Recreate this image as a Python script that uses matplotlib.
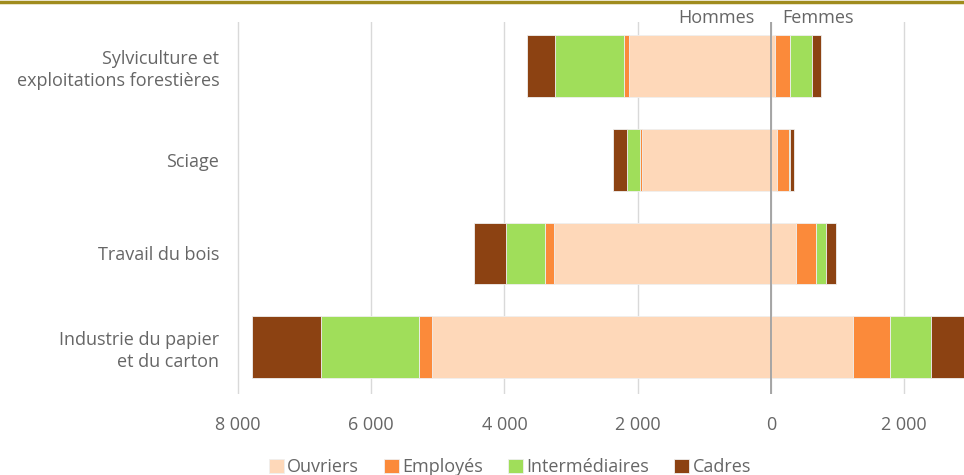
import matplotlib
matplotlib.use("Agg")
import matplotlib.pyplot as plt
import numpy as np
from matplotlib.ticker import FuncFormatter

plt.rcParams['font.family'] = ['Open Sans', 'DejaVu Sans']

categories = ["Sylviculture et\nexploitations forestières", "Sciage",
              "Travail du bois", "Industrie du papier\net du carton"]
series = ["Ouvriers", "Employés", "Intermédiaires", "Cadres"]
colors = ["#FED8B9", "#FB8A3A", "#A0DE5A", "#8C4212"]

hommes = {
    "Ouvriers":       [2135, 1930, 3250, 5080],
    "Employés":       [75, 40, 140, 200],
    "Intermédiaires": [1025, 185, 590, 1480],
    "Cadres":         [420, 210, 470, 1035],
}
femmes = {
    "Ouvriers":       [65, 90, 380, 1240],
    "Employés":       [220, 185, 295, 555],
    "Intermédiaires": [340, 20, 160, 605],
    "Cadres":         [130, 60, 145, 600],
}
xticks = [-8000, -6000, -4000, -2000, 0, 2000]

FS = 13
TXT = "#666666"

fig = plt.figure(figsize=(9.64, 4.75), dpi=100)
ax = fig.add_axes([236/964, 1 - 394/475, (964 - 236)/964, (394 - 22)/475])

y = np.arange(len(categories))
left_h = np.zeros(len(categories))
left_f = np.zeros(len(categories))
for s, c in zip(series, colors):
    h = np.array(hommes[s], dtype=float)
    f = np.array(femmes[s], dtype=float)
    ax.barh(y, -h, left=-left_h, height=0.66, color=c, edgecolor="#EFEFEF",
            linewidth=0.6, label=s, zorder=3)
    ax.barh(y, f, left=left_f, height=0.66, color=c, edgecolor="#EFEFEF",
            linewidth=0.6, zorder=3)
    left_h += h
    left_f += f

ax.set_xlim(-8030, 2900)
ax.set_ylim(len(categories) - 0.5, -0.47)
ax.set_yticks(y)
ax.set_yticklabels(categories, fontsize=FS, color=TXT, linespacing=1.3)
ax.set_xticks(xticks)
ax.xaxis.set_major_formatter(FuncFormatter(lambda v, p: f"{abs(int(v)):,}".replace(",", " ")))
ax.tick_params(axis='x', labelsize=FS, labelcolor=TXT, length=0, pad=16)
ax.tick_params(axis='y', length=0, pad=12)
for sp in ax.spines.values():
    sp.set_visible(False)
ax.grid(axis='x', color="#D9D9D9", linewidth=1.0, zorder=0)
ax.axvline(0, color="#A0A0A0", linewidth=1.3, zorder=4)

fig.text(755/964, 1 - 18/475, "Hommes", ha="right", va="center", fontsize=FS, color=TXT)
fig.text(782/964, 1 - 18/475, "Femmes", ha="left", va="center", fontsize=FS, color=TXT)

# top gold rule
fig.add_artist(plt.Line2D([0, 1], [1 - 1.5/475, 1 - 1.5/475], color="#A08C1E",
                          linewidth=2.5, transform=fig.transFigure))

fig.legend(loc="center", bbox_to_anchor=(510/964, 1 - 467/475), ncol=4, frameon=False,
           fontsize=FS, labelcolor=TXT, handlelength=0.8, handleheight=0.8,
           handletextpad=0.2, columnspacing=1.4)

fig.savefig("out.png", dpi=100)
